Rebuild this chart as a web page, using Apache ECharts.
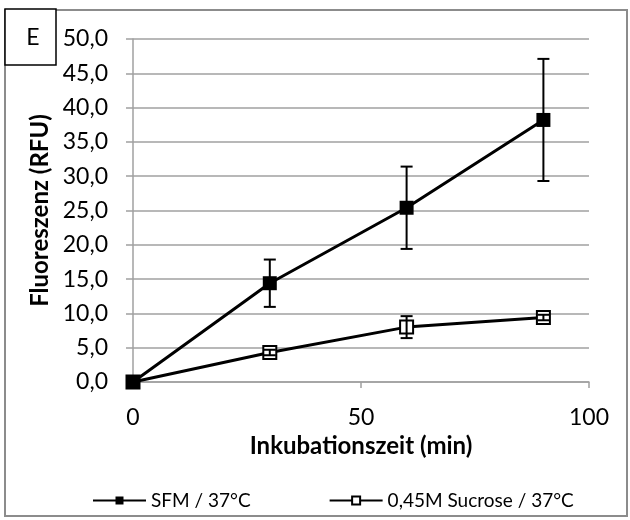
<!DOCTYPE html>
<html>
<head>
<meta charset="utf-8">
<script src="https://cdn.jsdelivr.net/npm/echarts@6/dist/echarts.min.js"></script>
<style>
html,body{margin:0;padding:0;background:#fff;}
#chart{width:630px;height:520px;}
</style>
</head>
<body>
<div id="chart"></div>
<script>
// Data
var xValues = [0, 30, 60, 90];
var sfmValues = [0.0, 14.4, 25.4, 38.2];
var sfmErrors = [0.0, 3.45, 6.0, 8.9];
var sucroseValues = [0.0, 4.3, 8.0, 9.4];
var sucroseErrors = [0.0, 0.4, 1.6, 0.4];
var seriesNames = ['SFM / 37°C', '0,45M Sucrose / 37°C'];
var xTitle = 'Inkubationszeit (min)';
var yTitle = 'Fluoreszenz (RFU)';
var panelLabel = 'E';

var FONT = 'Lato';

function pairs(xs, ys) {
  return xs.map(function (x, i) { return [x, ys[i]]; });
}
function errRows(xs, ys, es) {
  return xs.map(function (x, i) { return [x, ys[i] - es[i], ys[i] + es[i]]; });
}
var errorData = errRows(xValues, sfmValues, sfmErrors).concat(errRows(xValues, sucroseValues, sucroseErrors));

var chart = echarts.init(document.getElementById('chart'), null, {renderer: 'canvas'});

var gridColor = '#a0a0a0';

var option = {
  animation: false,
  backgroundColor: '#fff',
  textStyle: {fontFamily: FONT},
  grid: {left: 133, right: 41, top: 39, bottom: 138, containLabel: false},
  xAxis: {
    type: 'value', min: 0, max: 100, interval: 50,
    name: xTitle, nameLocation: 'middle', nameGap: 47,
    nameTextStyle: {fontFamily: FONT, fontWeight: 'bold', fontSize: 24, color: '#000'},
    axisLine: {show: true, lineStyle: {color: gridColor, width: 1.5}},
    axisTick: {show: true, length: 6, lineStyle: {color: gridColor, width: 1.5}},
    axisLabel: {fontFamily: FONT, fontSize: 23, color: '#000', margin: 24},
    splitLine: {show: false}
  },
  yAxis: {
    type: 'value', min: 0, max: 50, interval: 5,
    name: yTitle, nameLocation: 'middle', nameGap: 77, nameRotate: 90,
    nameTextStyle: {fontFamily: FONT, fontWeight: 'bold', fontSize: 24, color: '#000'},
    axisLine: {show: true, lineStyle: {color: gridColor, width: 1.5}},
    axisTick: {show: true, length: 7, lineStyle: {color: gridColor, width: 1.5}},
    axisLabel: {fontFamily: FONT, fontSize: 23, color: '#000', margin: 25,
      formatter: function (v) { return v.toFixed(1).replace('.', ','); }},
    splitLine: {show: true, lineStyle: {color: gridColor, width: 1.5}}
  },
  legend: {
    data: seriesNames,
    left: 87, top: 486,
    itemWidth: 53, itemHeight: 10, itemGap: 78,
    textStyle: {fontFamily: FONT, fontSize: 19, color: '#000'}
  },
  series: [
    {
      name: seriesNames[1], type: 'line', data: pairs(xValues, sucroseValues),
      symbol: 'rect', symbolSize: 13,
      lineStyle: {color: '#000', width: 3},
      itemStyle: {color: '#fff', borderColor: '#000', borderWidth: 2},
      z: 3
    },
    {
      name: seriesNames[0], type: 'line', data: pairs(xValues, sfmValues),
      symbol: 'rect', symbolSize: 14,
      lineStyle: {color: '#000', width: 3},
      itemStyle: {color: '#000', borderColor: '#000', borderWidth: 0},
      z: 4
    },
    {
      type: 'custom', name: 'errors', data: errorData, z: 5,
      renderItem: function (params, api) {
        var x = api.value(0), lo = api.value(1), hi = api.value(2);
        if (hi - lo <= 0) return null;
        var pLo = api.coord([x, lo]);
        var pHi = api.coord([x, hi]);
        var hw = 6;
        var st = {stroke: '#000', lineWidth: 2};
        return {
          type: 'group',
          children: [
            {type: 'line', shape: {x1: pLo[0], y1: pLo[1], x2: pHi[0], y2: pHi[1]}, style: st},
            {type: 'line', shape: {x1: pLo[0] - hw, y1: pLo[1], x2: pLo[0] + hw, y2: pLo[1]}, style: st},
            {type: 'line', shape: {x1: pHi[0] - hw, y1: pHi[1], x2: pHi[0] + hw, y2: pHi[1]}, style: st}
          ]
        };
      }
    }
  ],
  graphic: [
    {type: 'rect', shape: {x: 5, y: 10, width: 622, height: 506}, style: {fill: 'none', stroke: '#8c8c8c', lineWidth: 2}, z: -1},
    {type: 'rect', shape: {x: 5, y: 9, width: 51, height: 56}, style: {fill: '#fff', stroke: '#000', lineWidth: 1.5}, z: 10},
    {type: 'text', x: 33, y: 38, style: {text: panelLabel, fontFamily: FONT, fontSize: 23, fill: '#000', align: 'center', verticalAlign: 'middle'}, z: 11}
  ]
};
chart.setOption(option);
</script>
</body>
</html>
